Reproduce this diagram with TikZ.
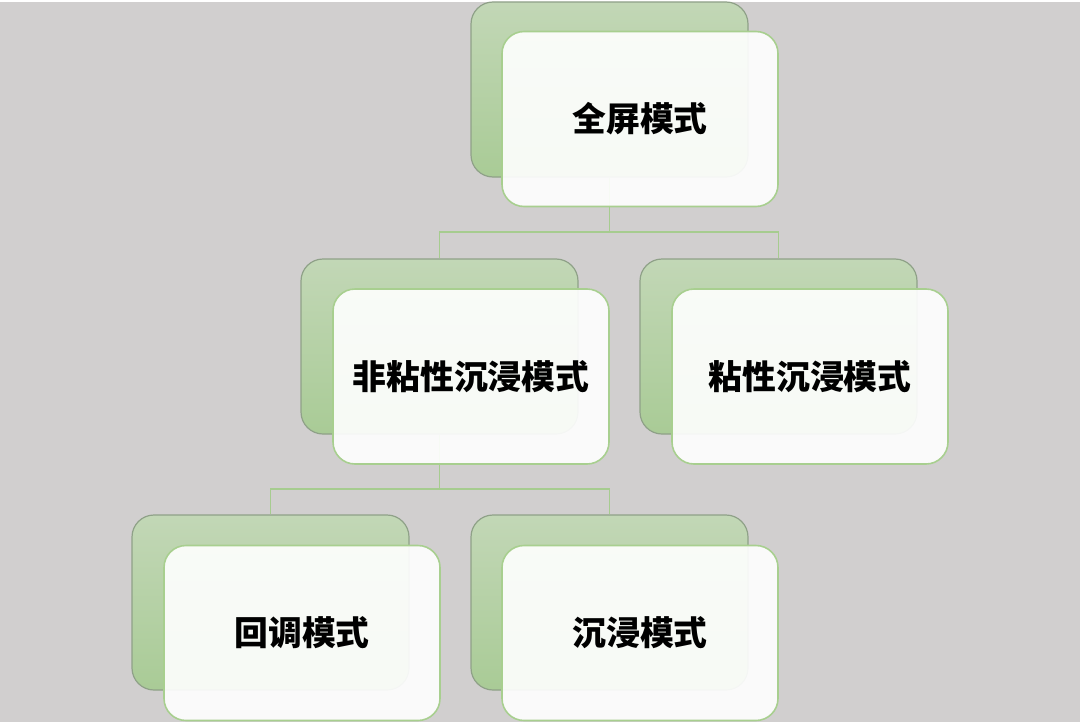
\documentclass[tikz,border=0pt]{standalone}
\usepackage{fontspec}
\newfontfamily\cjk{Noto Sans CJK SC}
\usetikzlibrary{calc}
\definecolor{bg}{HTML}{D1CFCF}
\definecolor{gtop}{HTML}{C2D7B6}
\definecolor{gbot}{HTML}{A9CB96}
\definecolor{gedge}{HTML}{8FA188}
\definecolor{fedge}{HTML}{A8CF8F}
\definecolor{conn}{HTML}{A6CC8F}
\tikzset{
  backbox/.style={rectangle, rounded corners=11pt, minimum width=138.5pt, minimum height=87.5pt,
    top color=gtop, bottom color=gbot, draw=gedge, line width=0.6pt},
  frontbox/.style={rectangle, rounded corners=11pt, minimum width=138pt, minimum height=87.5pt,
    fill=white, fill opacity=0.91, text opacity=1, draw=fedge, line width=0.8pt,
    font=\cjk\bfseries\fontsize{16.9pt}{18pt}\selectfont, text=black},
  connline/.style={draw=conn, line width=0.9pt}
}
\begin{document}
\begin{tikzpicture}[x=0.5pt, y=-0.5pt]
\fill[bg] (0,0) rectangle (1080,722);
\fill[white] (0,0) rectangle (1080,2);
\useasboundingbox (0,0) rectangle (1080,722);
% back boxes
\node[backbox] (rootB) at (609.5,89.5) {};
\node[backbox] (l2aB) at (439.5,346.5) {};
\node[backbox] (l2bB) at (778.5,346.5) {};
\node[backbox] (l3aB) at (270.5,602.5) {};
\node[backbox] (l3bB) at (609.5,602.5) {};
% connectors
\coordinate (j1) at (609.5,232);
\coordinate (j2) at (439.5,489);
\draw[connline] (rootB.south) -- (j1) -| (l2aB.north);
\draw[connline] (j1) -| (l2bB.north);
\draw[connline] (l2aB.south) -- (j2) -| (l3aB.north);
\draw[connline] (j2) -| (l3bB.north);
% front boxes
\node[frontbox] (rootF) at (640,119) {全屏模式};
\node[frontbox] (l2aF) at (471,376.5) {非粘性沉浸模式};
\node[frontbox] (l2bF) at (810,376.5) {粘性沉浸模式};
\node[frontbox] (l3aF) at (302,633) {回调模式};
\node[frontbox] (l3bF) at (640,633) {沉浸模式};
\end{tikzpicture}
\end{document}
